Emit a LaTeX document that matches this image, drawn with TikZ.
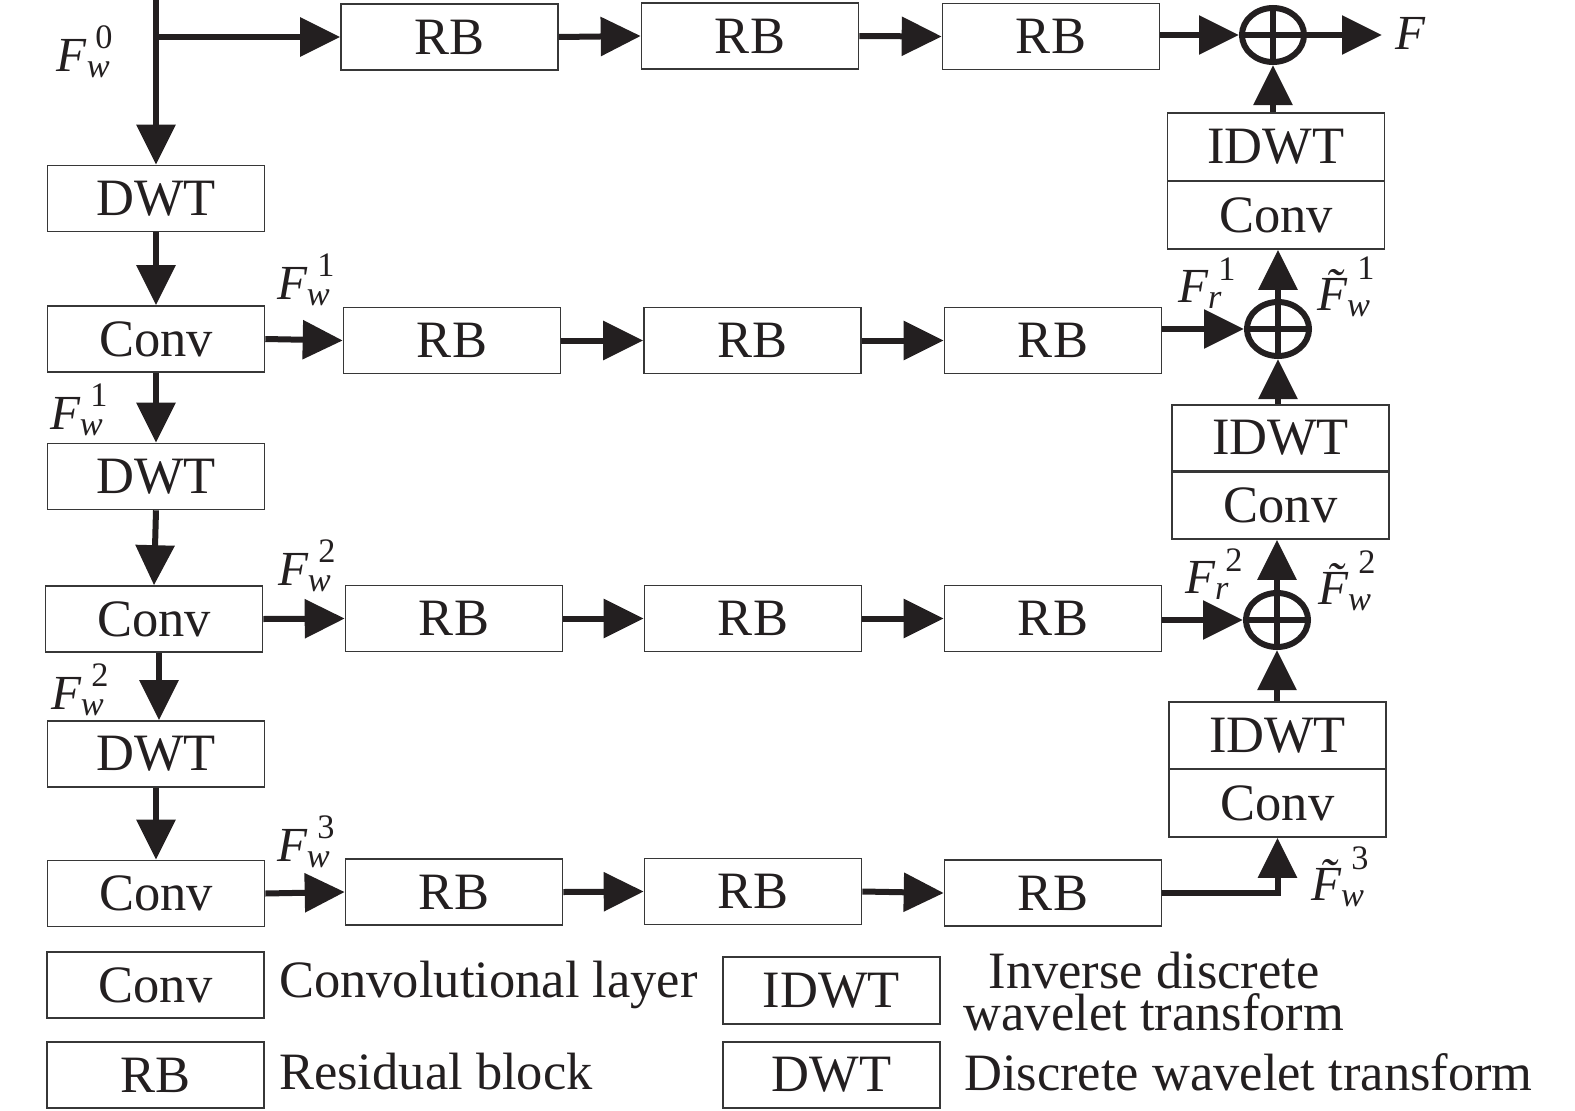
\documentclass[tikz,border=0pt]{standalone}
\usepackage{fontspec}
\usepackage{amsmath}
\setmainfont{Liberation Serif}
\usetikzlibrary{arrows.meta,shapes.geometric}
\definecolor{ink}{RGB}{35,31,32}
\definecolor{boxc}{RGB}{55,55,55}
\newcommand{\Fw}[3]{$\textit{F}^{\textup{\hspace{#3}#2}}_{\textit{#1}}$}
\newcommand{\Ft}[3]{$\textit{\~{F}}^{\textup{\hspace{#3}#2}}_{\textit{#1}}$}
\begin{document}
\begin{tikzpicture}[x=1pt,y=-1pt,
 blk/.style={draw=boxc,line width=1.6pt,minimum width=217pt,minimum height=66pt,inner sep=0pt,font=\fontsize{52.5}{56}\selectfont,text=ink},
 arr/.style={draw=ink,line width=6pt,-{Triangle[length=40pt,width=38pt]}},
 ln/.style={draw=ink,line width=6pt},
 sumnode/.style={ellipse,draw=ink,line width=6pt,minimum width=62pt,minimum height=54pt,inner sep=0pt},
 lbl/.style={inner sep=0pt,font=\fontsize{49}{52}\selectfont,text=ink},
 txt/.style={inner sep=0pt,font=\fontsize{52.5}{42}\selectfont,text=ink}]
\useasboundingbox (0,0) rectangle (1575,1111);

% left column
\node[blk] (dwt1) at (156,198.5) {DWT};
\node[blk] (conv1) at (156,339) {Conv};
\node[blk] (dwt2) at (156,476.5) {DWT};
\node[blk] (conv2) at (154,619) {Conv};
\node[blk] (dwt3) at (156,754) {DWT};
\node[blk] (conv3) at (156,893.5) {Conv};

% row 1
\node[blk] (rb11) at (449.5,37) {RB};
\node[blk] (rb12) at (750,36) {RB};
\node[blk] (rb13) at (1051,36.5) {RB};
% row 2
\node[blk] (rb21) at (452,340.5) {RB};
\node[blk] (rb22) at (752.5,340.5) {RB};
\node[blk] (rb23) at (1053,340.5) {RB};
% row 3
\node[blk] (rb31) at (454,618.5) {RB};
\node[blk] (rb32) at (753,618.5) {RB};
\node[blk] (rb33) at (1053,618.5) {RB};
% row 4
\node[blk] (rb41) at (454,892) {RB};
\node[blk] (rb42) at (753,891.5) {RB};
\node[blk] (rb43) at (1053,893) {RB};

% right column
\node[blk,minimum height=68pt] (idwt1) at (1276,147) {IDWT};
\node[blk,minimum height=68pt] (cr1) at (1276,215) {Conv};
\node[blk,minimum height=66pt] (idwt2) at (1280.5,438) {IDWT};
\node[blk,minimum height=67pt] (cr2) at (1280.5,505.5) {Conv};
\node[blk,minimum height=67pt] (idwt3) at (1277.5,735.5) {IDWT};
\node[blk,minimum height=68pt] (cr3) at (1277.5,803) {Conv};

\node[sumnode] (ox1) at (1273,35) {};
\node[sumnode] (ox2) at (1278,329) {};
\node[sumnode] (ox3) at (1277,620) {};
\foreach \o in {ox1,ox2,ox3}
  \draw[ln] (\o.north) -- (\o.south) (\o.west) -- (\o.east);

% input
\coordinate (in) at (156,0);
\coordinate (Fout) at (1382,35);
\draw[arr] (in) -- (dwt1.north);
\draw[arr] (in |- rb11.west) -- (rb11.west);
\draw[arr] (rb11.east) -- (rb12.west);
\draw[arr] (rb12.east) -- (rb13.west);
\draw[arr] (rb13.east |- ox1) -- (ox1.west);
\draw[arr] (ox1.east) -- (Fout);

% left column arrows
\draw[arr] (dwt1.south) -- (conv1.north);
\draw[arr] (conv1.south) -- (dwt2.north);
\draw[arr] (dwt2.south) -- (conv2.north);
\draw[arr] ([xshift=5pt]conv2.south) -- ([xshift=3pt]dwt3.north);
\draw[arr] (dwt3.south) -- (conv3.north);

% rows
\draw[arr] (conv1.east) -- (rb21.west);
\draw[arr] (rb21.east) -- (rb22.west);
\draw[arr] (rb22.east) -- (rb23.west);
\draw[arr] (rb23.east |- ox2) -- (ox2.west);

\draw[arr] (conv2.east) -- (rb31.west);
\draw[arr] (rb31.east) -- (rb32.west);
\draw[arr] (rb32.east) -- (rb33.west);
\draw[arr] (rb33.east |- ox3) -- (ox3.west);

\draw[arr] (conv3.east) -- (rb41.west);
\draw[arr] (rb41.east) -- (rb42.west);
\draw[arr] (rb42.east) -- (rb43.west);
\draw[arr] (rb43.east) -| (cr3.south);

% right column arrows
\draw[arr] (ox1 |- idwt1.north) -- (ox1.south);
\draw[arr] (ox2.north) -- (ox2 |- cr1.south);
\draw[arr] (ox2 |- idwt2.north) -- (ox2.south);
\draw[arr] (ox3.north) -- (ox3 |- cr2.south);
\draw[arr] (ox3 |- idwt3.north) -- (ox3.south);

% labels
\node[lbl] (l0) at (85,52) {\Fw{w}{0}{0.25em}};
\node[lbl] (lF) at (1410,33) {$\textit{F}$};
\node[lbl] (l1a) at (306,280) {\Fw{w}{1}{0.3em}};
\node[lbl] (l1b) at (79,410) {\Fw{w}{1}{0.3em}};
\node[lbl] (l2a) at (307,566) {\Fw{w}{2}{0.3em}};
\node[lbl] (l2b) at (80,690) {\Fw{w}{2}{0.3em}};
\node[lbl] (l3a) at (306,842) {\Fw{w}{3}{0.3em}};
\node[lbl] (lr1) at (1207,283) {\Fw{r}{1}{0.3em}};
\node[lbl] (lt1) at (1346,287) {\Ft{w}{1}{0.3em}};
\node[lbl] (lr2) at (1214,574) {\Fw{r}{2}{0.3em}};
\node[lbl] (lt2) at (1347,581) {\Ft{w}{2}{0.3em}};
\node[lbl] (lt3) at (1340,877) {\Ft{w}{3}{0.3em}};

% legend
\node[blk] (lgc) at (155.5,985) {Conv};
\node[txt,anchor=west] (lgct) at (279,985) {Convolutional layer};
\node[blk,minimum height=67pt] (lgi) at (831.5,990.5) {IDWT};
\node[txt,align=center] (lgit) at (1154,992) {Inverse discrete\\wavelet transform};
\node[blk] (lgr) at (155.5,1075) {RB};
\node[txt,anchor=west] (lgrt) at (279,1072) {Residual block};
\node[blk] (lgd) at (831.5,1075) {DWT};
\node[txt,anchor=west] (lgdt) at (964,1072) {Discrete wavelet transform};
\end{tikzpicture}
\end{document}
